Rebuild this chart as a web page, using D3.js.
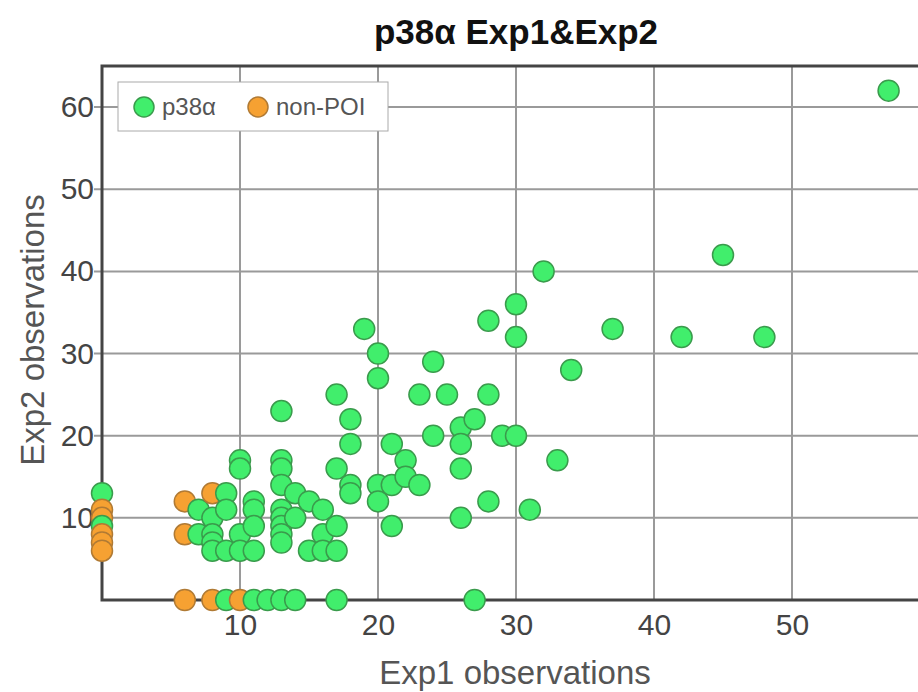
<!DOCTYPE html>
<html>
<head>
<meta charset="utf-8">
<script src="https://cdn.jsdelivr.net/npm/d3@7/dist/d3.min.js"></script>
<style>
  body { margin: 0; background: #fff; }
  text { font-family: "Liberation Sans", Arial, sans-serif; }
</style>
</head>
<body>
<div id="chart"></div>
<script>
// p38a points (Exp1, Exp2)
var poiX = [57,45,32,30,28,37,19,42,48,30,20,24,34,20,17,23,25,28,13,18,27,26,24,29,30,18,21,26,
            10,13,22,33,10,13,17,26,22,13,18,20,21,23,0,9,14,18,11,15,20,28,7,9,11,13,16,31,
            8,13,14,26,0,11,13,17,21,7,8,10,13,16,8,13,8,9,10,11,15,16,17,9,11,12,13,14,17,27];
var poiY = [62,42,40,36,34,33,33,32,32,32,30,29,28,27,25,25,25,25,23,22,22,21,20,20,20,19,19,19,
            17,17,17,17,16,16,16,16,15,14,14,14,14,14,13,13,13,13,12,12,12,12,11,11,11,11,11,11,
            10,10,10,10,9,9,9,9,9,8,8,8,8,8,7,7,6,6,6,6,6,6,6,0,0,0,0,0,0,0];
// non-POI points
var otherX = [6,8,6,0,0,0,0,0,6,8,10];
var otherY = [12,13,8,11,10,8,7,6,0,0,0];

var xTicks = [10,20,30,40,50];
var yTicks = [10,20,30,40,50,60];
var seriesNames = ["p38α", "non-POI"];
var fills = ["#41ee6c", "#f6a132"];
var strokes = ["#3a9b4c", "#b07a34"];

var W = 918, H = 692;
var margin = {top: 66, left: 102, bottom: 92, right: -12};
var width = W - margin.left - margin.right;
var height = H - margin.top - margin.bottom;

var x = d3.scaleLinear().domain([0, 60]).range([0, width]);
var y = d3.scaleLinear().domain([0, 65]).range([height, 0]);

var svg = d3.select("#chart").append("svg")
    .attr("width", W).attr("height", H);

svg.append("text")
    .attr("x", margin.left + width / 2).attr("y", 44)
    .attr("text-anchor", "middle")
    .style("font-size", "35px").style("font-weight", "bold").attr("fill", "#111")
    .text("p38α Exp1&Exp2");

var g = svg.append("g")
    .attr("transform", "translate(" + margin.left + "," + margin.top + ")");

// grid
g.append("g").selectAll("line").data(xTicks).enter().append("line")
    .attr("x1", d => x(d)).attr("x2", d => x(d))
    .attr("y1", 0).attr("y2", height)
    .attr("stroke", "#9a9a9a").attr("stroke-width", 2);
g.append("g").selectAll("line").data(yTicks).enter().append("line")
    .attr("x1", -8).attr("x2", width)
    .attr("y1", d => y(d)).attr("y2", d => y(d))
    .attr("stroke", "#9a9a9a").attr("stroke-width", 2);

// frame
g.append("rect").attr("x", 0).attr("y", 0)
    .attr("width", width).attr("height", height)
    .attr("fill", "none").attr("stroke", "#444").attr("stroke-width", 3);

// axes (labels only)
var xAxis = g.append("g").attr("transform", "translate(0," + height + ")")
    .call(d3.axisBottom(x).tickValues(xTicks).tickSize(0).tickPadding(14));
var yAxis = g.append("g")
    .call(d3.axisLeft(y).tickValues(yTicks).tickSize(0).tickPadding(8));
[xAxis, yAxis].forEach(function(a) {
  a.select(".domain").remove();
  a.selectAll("text").attr("fill", "#444").style("font-size", "30px")
      .style("font-family", "'Liberation Sans', Arial, sans-serif");
});

// points, drawn in x order then from top down
var pts = [];
poiX.forEach(function(v, i) { pts.push({x: v, y: poiY[i], s: 0}); });
otherX.forEach(function(v, i) { pts.push({x: v, y: otherY[i], s: 1}); });
pts.sort(function(a, b) { return a.x - b.x || b.y - a.y; });

g.selectAll("circle.pt").data(pts).enter().append("circle")
    .attr("class", "pt")
    .attr("cx", d => x(d.x)).attr("cy", d => y(d.y))
    .attr("r", 10.5)
    .attr("fill", d => fills[d.s])
    .attr("stroke", d => strokes[d.s])
    .attr("stroke-width", 1.5);

// axis titles
svg.append("text")
    .attr("x", 515).attr("y", 684)
    .attr("text-anchor", "middle").attr("fill", "#555")
    .style("font-size", "33px").text("Exp1 observations");
svg.append("text")
    .attr("transform", "translate(44,330) rotate(-90)")
    .attr("text-anchor", "middle").attr("fill", "#555")
    .style("font-size", "33px").text("Exp2 observations");

// legend
var lg = svg.append("g").attr("transform", "translate(118,82)");
lg.append("rect").attr("width", 270).attr("height", 49)
    .attr("fill", "#fff").attr("stroke", "#aaa").attr("stroke-width", 1);
var lx = [26, 140];
seriesNames.forEach(function(name, i) {
  lg.append("circle").attr("cx", lx[i]).attr("cy", 25).attr("r", 10)
      .attr("fill", fills[i]).attr("stroke", strokes[i]).attr("stroke-width", 1.5);
  lg.append("text").attr("x", lx[i] + 18).attr("y", 33)
      .attr("fill", "#555").style("font-size", "24px").text(name);
});
</script>
</body>
</html>
